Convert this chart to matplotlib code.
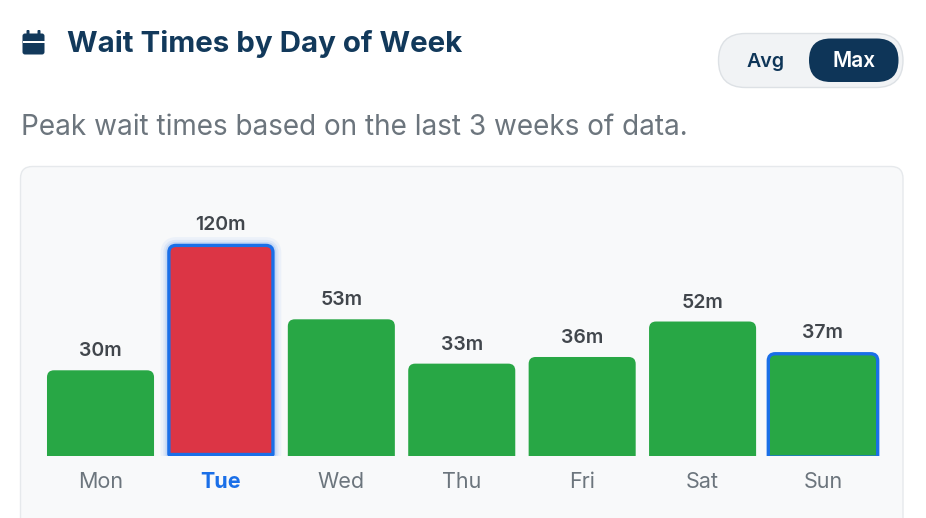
import matplotlib
matplotlib.use("Agg")
import matplotlib.pyplot as plt
from matplotlib.patches import FancyBboxPatch, PathPatch, Rectangle
from matplotlib.path import Path
import numpy as np

# ---------------- data ----------------
days = ["Mon", "Tue", "Wed", "Thu", "Fri", "Sat", "Sun"]
max_wait_min = [30, 120, 53, 33, 36, 52, 37]
value_labels = [f"{v}m" for v in max_wait_min]
title = "Wait Times by Day of Week"
subtitle = "Peak wait times based on the last 3 weeks of data."
toggle_labels = ["Avg", "Max"]
selected_day = "Tue"      # highlighted day (blue label + outline)
hovered_day = "Sun"       # hovered day (outline + slight scale)
red_threshold = 60        # minutes at or above -> red bar

# ---------------- styles ----------------
FONT = "Inter"
plt.rcParams["font.family"] = [FONT, "DejaVu Sans"]
W, H = 926, 518
NAVY = "#12395b"
GREEN = "#28a745"
RED = "#dc3545"
BLUE = "#1a6fe8"
GRAY = "#6c757d"
LABEL_DARK = "#41464c"

fig = plt.figure(figsize=(W / 100, H / 100), dpi=100)
fig.patch.set_facecolor("white")
renderer = fig.canvas.get_renderer()

# background axes in pixel coordinates
bg = fig.add_axes([0, 0, 1, 1])
bg.set_xlim(0, W)
bg.set_ylim(H, 0)
bg.axis("off")


def fit_text(t, target_w):
    bb = t.get_window_extent(renderer=renderer)
    t.set_fontsize(t.get_fontsize() * target_w / bb.width)
    return t


# calendar icon
bg.add_patch(FancyBboxPatch((22.5, 33.5), 22, 21, boxstyle="round,pad=0,rounding_size=2.5",
                            fc=NAVY, ec="none"))
bg.add_patch(Rectangle((22.5, 40.5), 22, 2.2, fc="white", ec="none"))
for tx in (26.5, 37.5):
    bg.add_patch(FancyBboxPatch((tx, 30), 3, 5, boxstyle="round,pad=0,rounding_size=1",
                                fc=NAVY, ec="none"))

# title and subtitle
t = bg.text(67, 52.5, title, fontsize=20, fontweight="bold", color=NAVY,
            ha="left", va="baseline")
fit_text(t, 396)
s = bg.text(21, 135, subtitle, fontsize=17, fontweight="normal", color=GRAY,
            ha="left", va="baseline")
fit_text(s, 669)

# toggle
bg.add_patch(FancyBboxPatch((718.5, 33.5), 184.5, 54, boxstyle="round,pad=0,rounding_size=27",
                            fc="#f1f3f5", ec="#dde1e5", lw=1))
bg.add_patch(FancyBboxPatch((809, 38.5), 89.5, 43.5, boxstyle="round,pad=0,rounding_size=21.7",
                            fc="#0e3558", ec="none"))
ta = bg.text(766, 67, toggle_labels[0], fontsize=14, fontweight="semibold", color="#0e3558",
             ha="center", va="baseline")
fit_text(ta, 38)
tm = bg.text(854, 67, toggle_labels[1], fontsize=14, fontweight="semibold", color="white",
             ha="center", va="baseline")
fit_text(tm, 43)

# card panel
bg.add_patch(FancyBboxPatch((20.5, 166.5), 882.5, 420, boxstyle="round,pad=0,rounding_size=12",
                            fc="#f8f9fa", ec="#e6e9ec", lw=1))

# ---------------- bar chart axes ----------------
BASE_Y = 456          # pixel row of the bar baseline
TOP_Y = 166
X0, X1 = 40.3, 883.2
PX_PER_MIN = 2.217
MIN_BAR_PX = 19.2     # visual floor added to every bar
BAR_CAP_MIN = 87      # bars taller than this are capped visually
ax = fig.add_axes([X0 / W, (H - BASE_Y) / H, (X1 - X0) / W, (BASE_Y - TOP_Y) / H])
ax.patch.set_alpha(0)
for sp in ax.spines.values():
    sp.set_visible(False)
x = np.arange(len(days))
ax.set_xlim(-0.5, len(days) - 0.5)
ymin = -MIN_BAR_PX / PX_PER_MIN
ax.set_ylim(ymin, ymin + (BASE_Y - TOP_Y) / PX_PER_MIN)
ax.set_yticks([])

vals = np.array(max_wait_min, dtype=float)
shown = np.minimum(vals, BAR_CAP_MIN)
colors = [RED if v >= red_threshold else GREEN for v in vals]
bars = ax.bar(x, shown - ymin, bottom=ymin, width=0.889, color=colors)

px_x = (X1 - X0) / len(days)   # pixels per x unit
RADIUS_PX = 7


def rounded_top(x0, y0, x1, y1, rx, ry):
    verts = [(x0, y0), (x0, y1 - ry), (x0, y1), (x0 + rx, y1), (x1 - rx, y1),
             (x1, y1), (x1, y1 - ry), (x1, y0), (x0, y0)]
    codes = [Path.MOVETO, Path.LINETO, Path.CURVE3, Path.CURVE3, Path.LINETO,
             Path.CURVE3, Path.CURVE3, Path.LINETO, Path.CLOSEPOLY]
    return Path(verts, codes)


for i, rect in enumerate(bars):
    d = days[i]
    x0, y0 = rect.get_x(), rect.get_y()
    x1, y1 = x0 + rect.get_width(), y0 + rect.get_height()
    rect.set_visible(False)
    if d == hovered_day:
        cx, cy = (x0 + x1) / 2, (y0 + y1) / 2
        s_ = 1.05
        x0, x1 = cx + (x0 - cx) * s_, cx + (x1 - cx) * s_
        y0, y1 = cy + (y0 - cy) * s_, cy + (y1 - cy) * s_
    rx, ry = RADIUS_PX / px_x, RADIUS_PX / PX_PER_MIN
    outlined = d in (selected_day, hovered_day)
    if outlined:
        ix, iy = 1.5 / px_x, 1.5 / PX_PER_MIN
        p = rounded_top(x0 + ix, y0 + iy, x1 - ix, y1 - iy, rx, ry)
        if d == selected_day:
            for lw, a in ((12, 0.05), (8, 0.08), (5, 0.12)):
                ax.add_patch(PathPatch(p, fc="none", ec=BLUE, lw=lw, alpha=a,
                                       joinstyle="round", zorder=2))
        ax.add_patch(PathPatch(p, fc=colors[i], ec=BLUE, lw=2.4, zorder=3,
                               joinstyle="round"))
    else:
        ax.add_patch(PathPatch(rounded_top(x0, y0, x1, y1, rx, ry), fc=colors[i],
                               ec="none", zorder=3))
    ax.annotate(value_labels[i], xy=(x[i], y1), xytext=(0, 14 * 0.72),
                textcoords="offset points", ha="center", va="baseline",
                fontsize=14, fontweight="semibold", color=LABEL_DARK,
                annotation_clip=False)

ax.set_xticks(x, days)
ax.tick_params(axis="x", length=0, pad=11.5, labelsize=15.5, labelcolor=GRAY)
for lbl in ax.get_xticklabels():
    if lbl.get_text() == selected_day:
        lbl.set_color(BLUE)
        lbl.set_fontweight("bold")

fig.savefig("out.png", dpi=100, facecolor="white")
